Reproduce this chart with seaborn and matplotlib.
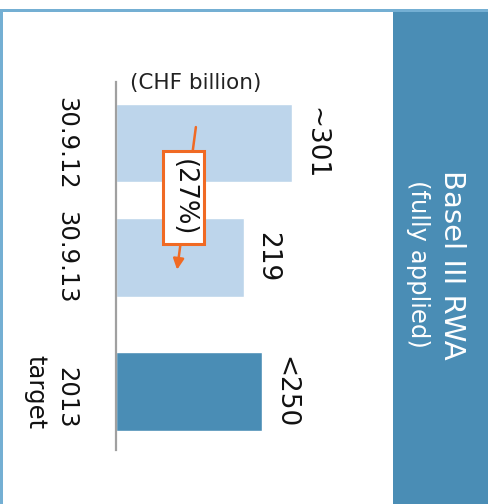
import matplotlib
matplotlib.use("Agg")
import matplotlib.pyplot as plt
from matplotlib.patches import Rectangle
import seaborn as sns
import pandas as pd

# data
periods = ["30.9.12", "30.9.13", "2013\ntarget"]
rwa = [301, 219, 250]
value_labels = ["~301", "219", "<250"]
kind = ["actual", "actual", "target"]
change_label = "(27%)"

# layout (row slots, target row sits a bit further down)
row_pos = [0, 1, 2.18]

light_blue = "#BDD5EB"
dark_blue = "#4A8DB5"
frame_blue = "#74AFD3"
orange = "#F06A24"

sns.set_style("white")
plt.rcParams["font.family"] = ["DejaVu Sans"]

df = pd.DataFrame({"period": periods, "rwa": rwa, "kind": kind, "pos": row_pos})

fig = plt.figure(figsize=(4.95, 5.04), dpi=100)
W, H = 495, 504

# outer frame and title band
fig.patches.append(Rectangle((393 / W, 0), 95 / W, 494 / H, transform=fig.transFigure,
                             facecolor=dark_blue, edgecolor="none", zorder=0))
fig.patches.append(Rectangle((0, 1 - 11.5 / H), 488 / W, 3 / H, transform=fig.transFigure,
                             facecolor=frame_blue, edgecolor="none", zorder=1))
fig.patches.append(Rectangle((0, 0), 3 / W, 1 - 10 / H, transform=fig.transFigure,
                             facecolor=frame_blue, edgecolor="none", zorder=1))

fig.text(452 / W, 1 - 265 / H, "Basel III RWA", rotation=-90, ha="center", va="center",
         color="white", fontsize=21)
fig.text(418 / W, 1 - 264 / H, "(fully applied)", rotation=-90, ha="center", va="center",
         color="white", fontsize=17.5)
fig.text(130 / W, 1 - 83 / H, "(CHF billion)", ha="left", va="center",
         color="#222222", fontsize=15.5)

ax = fig.add_axes([115.5 / W, 54 / H, 264 / W, 368 / H])
ax.patch.set_visible(False)

sns.barplot(data=df, x="rwa", y="pos", hue="kind", orient="y", native_scale=True,
            palette={"actual": light_blue, "target": dark_blue}, width=0.69,
            saturation=1, legend=False, ax=ax)

ax.set_xlim(0, 450)
ax.set_ylim(2.69, -0.535)
ax.set_yticks(row_pos)
ax.set_yticklabels(periods, rotation=-90, va="center", ha="right", fontsize=17.5,
                   color="#111111", linespacing=1.35)
ax.tick_params(axis="y", length=0, pad=27)
ax.set_xticks([])
ax.set_xlabel("")
ax.set_ylabel("")
for s in ["top", "right", "bottom"]:
    ax.spines[s].set_visible(False)
ax.spines["left"].set_color("#A0A0A0")
ax.spines["left"].set_linewidth(1.6)

for p, v, lab in zip(row_pos, rwa, value_labels):
    ax.text(v + 18, p, lab, rotation=-90, ha="left", va="center",
            fontsize=19, color="#111111")

# change arrow with boxed label
ax.annotate("", xy=(105, 1.11), xytext=(137, -0.14),
            arrowprops=dict(arrowstyle="-|>", color=orange, lw=1.8, mutation_scale=16,
                            shrinkA=0, shrinkB=0), zorder=3)
ax.text(116, 0.48, change_label, rotation=-90, ha="center", va="center", fontsize=18.5,
        color="#111111", zorder=4,
        bbox=dict(boxstyle="square,pad=0.3", facecolor="white", edgecolor=orange, lw=2.2))

fig.savefig("out.png", dpi=100)
